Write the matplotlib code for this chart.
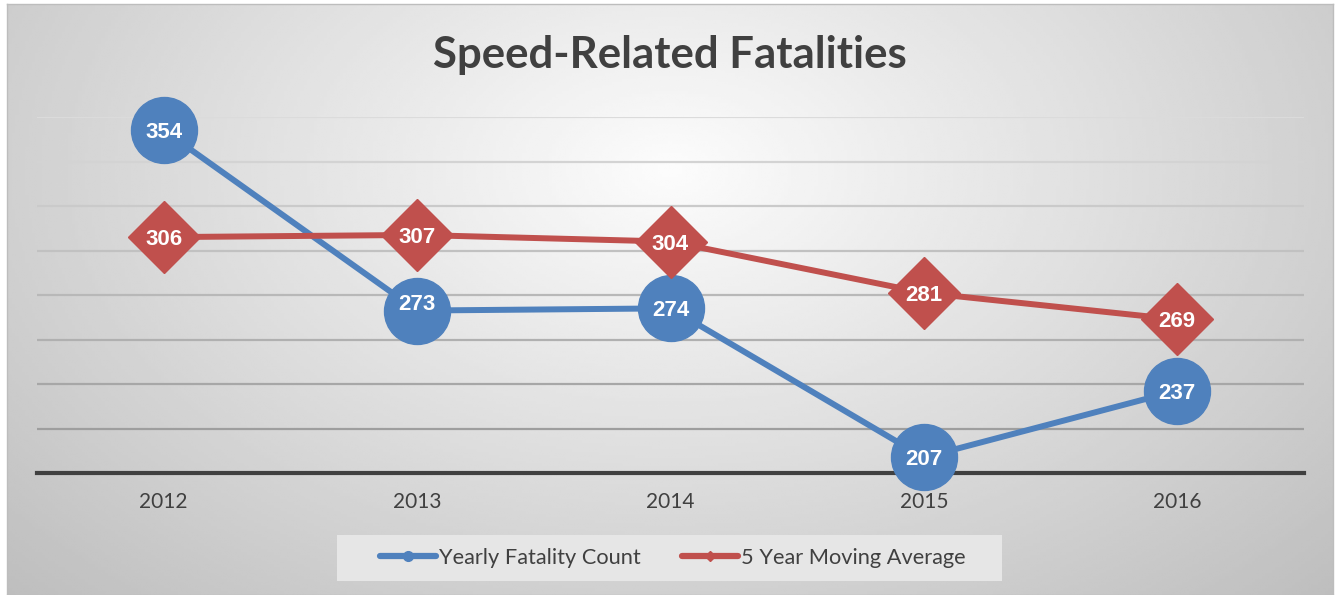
"""Speed-related fatalities line chart, Excel-style with gradient background."""

import numpy as np
import matplotlib.pyplot as plt
from matplotlib.lines import Line2D
from matplotlib.patches import Rectangle

years = ["2012", "2013", "2014", "2015", "2016"]
yearly_count = [354, 273, 274, 207, 237]
moving_avg = [306, 307, 304, 281, 269]
grid_values = [220, 240, 260, 280, 300, 320, 340, 360]

BLUE = "#4F81BD"
RED = "#C0504D"
TEXT = "#404040"

W, H = 1337, 595
fig = plt.figure(figsize=(W / 100, H / 100), dpi=100)
fig.patch.set_facecolor("white")

# radial gradient behind the chart area
bg = fig.add_axes([7 / W, 0, 1326 / W, 591 / H], zorder=0)
gx, gy = np.meshgrid(np.linspace(0, 1, 400), np.linspace(0, 1, 200))
r = np.sqrt(((gx - 0.5) / 0.5) ** 2 + ((gy - 0.28) / 0.72) ** 2) / np.sqrt(2)
grad = 252 - 62 * r
bg.imshow(grad, extent=[0, 1, 0, 1], aspect="auto", cmap="gray",
          vmin=0, vmax=255, origin="upper", interpolation="bilinear")
bg.set_xticks([])
bg.set_yticks([])
for side in bg.spines.values():
    side.set_color("#bdbdbd")
    side.set_linewidth(1.0)

ax = fig.add_axes([37 / W, 122 / H, 1267 / W, 356 / H], zorder=1)
ax.patch.set_alpha(0)
ax.set_xlim(-0.5, len(years) - 0.5)
ax.set_ylim(200, 360)

# gridlines fade lighter towards the top
for i, g in enumerate(grid_values):
    t = i / (len(grid_values) - 1)
    c = 0.62 + 0.24 * t
    ax.axhline(g, color=(c, c, c), lw=1.6, zorder=1)

x = np.arange(len(years))
ax.plot(x, yearly_count, color=BLUE, lw=4.3, marker="o", ms=47.5,
        mfc=BLUE, mec=BLUE, zorder=3, clip_on=False)
ax.plot(x, moving_avg, color=RED, lw=4.3, marker="D", ms=36.5,
        mfc=RED, mec=RED, zorder=4, clip_on=False)

label_font = dict(family="Liberation Sans", weight="bold", size=16,
                  color="white", ha="center", va="center_baseline", zorder=6)
for i, v in enumerate(yearly_count):
    nudge = 6 if i == 1 else 0
    ax.annotate(str(v), (x[i], v), xytext=(0, nudge), textcoords="offset points",
                annotation_clip=False, **label_font)
for i, v in enumerate(moving_avg):
    ax.annotate(str(v), (x[i], v), xytext=(0, 0), textcoords="offset points",
                annotation_clip=False, **label_font)

ax.set_xticks(x, years)
ax.set_yticks([])
ax.tick_params(axis="x", length=0, pad=14, labelsize=15, labelcolor=TEXT)
for lab in ax.get_xticklabels():
    lab.set_family("Lato")
for side in ["top", "left", "right"]:
    ax.spines[side].set_visible(False)
ax.spines["bottom"].set_color("#404040")
ax.spines["bottom"].set_linewidth(3)
ax.spines["bottom"].set_zorder(2)

fig.text(670 / W, 1 - 55 / H, "Speed-Related Fatalities", ha="center", va="center",
         family="Lato", weight="bold", size=31.5, color=TEXT)

# legend box drawn separately so its padding can be uneven like the original
fig.add_artist(Rectangle((337 / W, 1 - 581 / H), 665 / W, 46 / H,
                         transform=fig.transFigure, facecolor="#e6e6e6",
                         edgecolor="none", zorder=0.5))
handles = [
    Line2D([], [], color=BLUE, lw=4.5, marker="o", ms=7, solid_capstyle="round"),
    Line2D([], [], color=RED, lw=4.5, marker="D", ms=5.5, solid_capstyle="round"),
]
leg = fig.legend(handles, ["Yearly Fatality Count", "5 Year Moving Average"],
                 loc="center", bbox_to_anchor=(673 / W, 1 - 558 / H), ncol=2,
                 frameon=False, handlelength=2.55, handletextpad=0.15,
                 columnspacing=1.9, prop=dict(family="Lato", size=15.7))
leg.set_zorder(6)
for t in leg.get_texts():
    t.set_color(TEXT)

fig.savefig("out.png", dpi=100)
